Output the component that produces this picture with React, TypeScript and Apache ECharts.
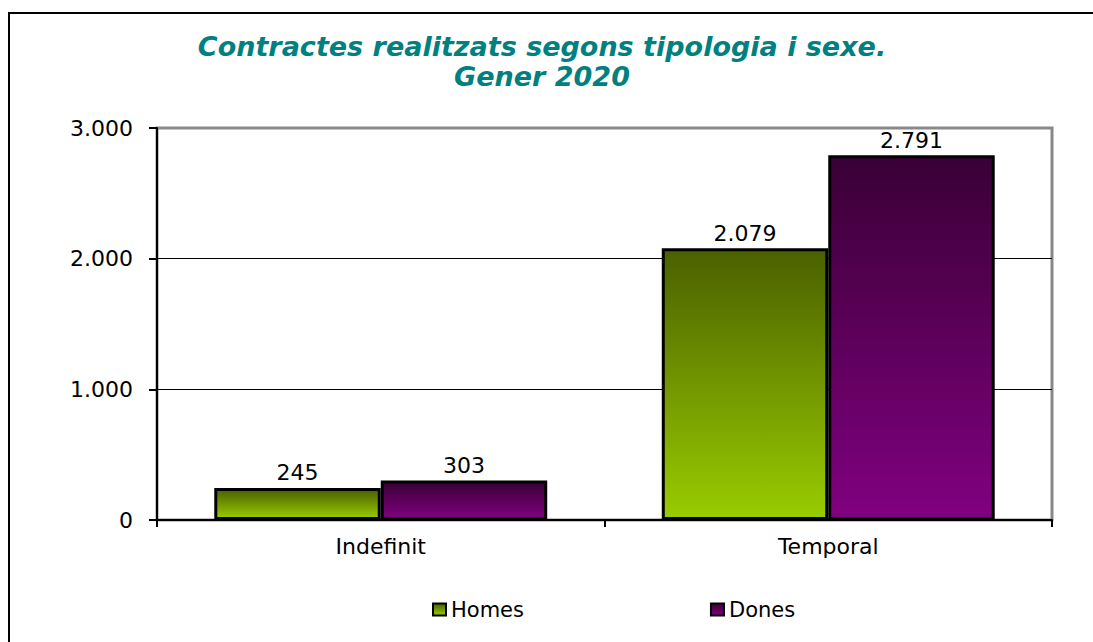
import React, { useEffect, useRef } from "react";
import * as echarts from "echarts";

const categories = ["Indefinit", "Temporal"];
const homes = [245, 2079];
const dones = [303, 2791];
const yTicks = [0, 1000, 2000, 3000];
const titleText = "Contractes realitzats segons tipologia i sexe.\nGener 2020";

const fmt = (v: number) => v.toLocaleString("de-DE");
const FONT = "'DejaVu Sans', Verdana, sans-serif";

export default function App() {
  const ref = useRef<HTMLDivElement>(null);
  useEffect(() => {
    document.body.style.margin = "0";
    const chart = echarts.init(ref.current!, null, { renderer: "svg" });
    const grad = (top: string, bottom: string) =>
      new echarts.graphic.LinearGradient(0, 0, 0, 1, [
        { offset: 0, color: top },
        { offset: 1, color: bottom },
      ]);
    const label = {
      show: true,
      position: "top",
      distance: 4,
      color: "#000",
      fontSize: 22,
      fontFamily: FONT,
      formatter: (p: any) => fmt(p.value),
    };
    chart.setOption({
      animation: false,
      backgroundColor: "#fff",
      title: {
        text: titleText,
        left: 537,
        textAlign: "center",
        top: 26,
        textStyle: {
          color: "#008080",
          fontSize: 27,
          fontWeight: "bold",
          fontStyle: "italic",
          fontFamily: FONT,
          lineHeight: 30,
        },
      },
      graphic: [
        {
          type: "rect",
          shape: { x: 9, y: 13, width: 1200, height: 800 },
          style: { fill: "none", stroke: "#000", lineWidth: 2 },
          silent: true,
          z: -1,
        },
      ],
      legend: {
        left: 427,
        top: 594,
        itemWidth: 13,
        itemHeight: 12,
        itemGap: 186,
        icon: "rect",
        textStyle: { fontSize: 21, fontFamily: FONT, color: "#000" },
        itemStyle: { borderColor: "#000", borderWidth: 2 },
        data: ["Homes", "Dones"],
      },
      grid: {
        left: 157,
        right: 41,
        top: 128,
        bottom: 122,
        show: true,
        borderColor: "#888",
        borderWidth: 3,
        backgroundColor: "transparent",
      },
      xAxis: {
        type: "category",
        data: categories,
        axisLine: { lineStyle: { color: "#000", width: 2 } },
        axisTick: { show: true, length: 7, lineStyle: { color: "#000", width: 2 } },
        axisLabel: { fontSize: 22, fontFamily: FONT, color: "#000", margin: 15 },
      },
      yAxis: {
        type: "value",
        min: yTicks[0],
        max: yTicks[yTicks.length - 1],
        interval: 1000,
        axisLine: { show: true, lineStyle: { color: "#000", width: 2 } },
        axisTick: { show: true, length: 8, lineStyle: { color: "#000", width: 2 } },
        axisLabel: {
          fontSize: 22,
          fontFamily: FONT,
          color: "#000",
          margin: 24,
          formatter: (v: number) => fmt(v),
        },
        splitLine: {
          show: true,
          lineStyle: { color: ["#000", "#000", "#000", "#888"], width: 1 },
        },
      },
      series: [
        {
          name: "Homes",
          type: "bar",
          data: homes,
          barGap: "0%",
          barCategoryGap: "25.6%",
          itemStyle: {
            color: grad("#4a6000", "#99cc00"),
            borderColor: "#000",
            borderWidth: 3,
          },
          label,
        },
        {
          name: "Dones",
          type: "bar",
          data: dones,
          barGap: "0%",
          barCategoryGap: "25.6%",
          itemStyle: {
            color: grad("#3a0036", "#800080"),
            borderColor: "#000",
            borderWidth: 3,
          },
          label,
        },
      ],
    });
    return () => chart.dispose();
  }, []);
  return <div ref={ref} style={{ width: 1093, height: 642 }} />;
}
